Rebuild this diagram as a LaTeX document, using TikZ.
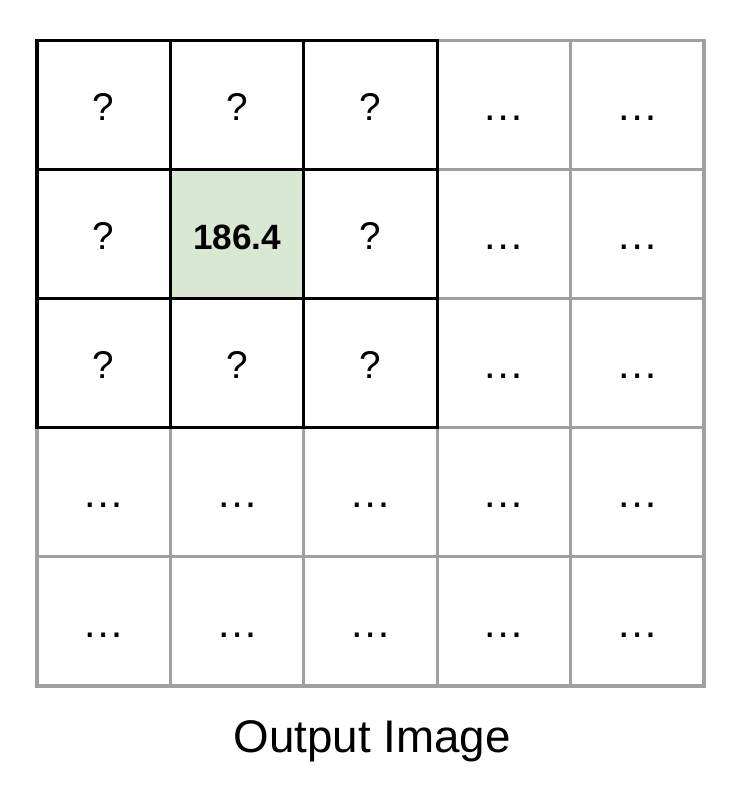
\documentclass[tikz,border=0pt]{standalone}
\usepackage{fontspec}
\setmainfont{Liberation Sans}
\usetikzlibrary{positioning}
\definecolor{cellgreen}{HTML}{D9E8D3}
\definecolor{gridgray}{HTML}{A0A0A0}

\begin{document}
\begin{tikzpicture}[x=0.01cm, y=-0.01cm,
    cell/.style={font=\fontsize{11}{13}\selectfont, text height=8.7pt, text depth=0pt, inner sep=0pt},
    gridline/.style={line width=0.9pt, line cap=rect}]
    \useasboundingbox (0,0) rectangle (742,794);

    % Highlighted output value
    \fill[cellgreen] (170.4,169.6) rectangle (303.8,298.7);

    % Gray 5x5 grid
    \foreach \i in {0,...,5} {
        \draw[gridline, gridgray] (37+133.4*\i,40.5) -- (37+133.4*\i,686);
        \draw[gridline, gridgray] (37,40.5+129.1*\i) -- (704,40.5+129.1*\i);
    }

    % Black 3x3 window
    \foreach \i in {0,...,3} {
        \draw[gridline, black] (37+133.4*\i,40.5) -- (37+133.4*\i,427.8);
        \draw[gridline, black] (37,40.5+129.1*\i) -- (437.2,40.5+129.1*\i);
    }

    % Cell values
    \foreach \r in {0,...,4} {
        \foreach \c in {0,...,4} {
            \pgfmathtruncatemacro{\inwin}{and(\r<3,\c<3) + and(\r==1,\c==1)}
            \ifcase\inwin
                \node[cell, font=\fontsize{12}{14}\selectfont] (cell-\r-\c) at (103.7+133.4*\c, 105.3+129.1*\r) {…};
            \or
                \node[cell] (cell-\r-\c) at (103.7+133.4*\c, 105.3+129.1*\r) {?};
            \else
                \node[cell, font=\fontsize{10}{12}\selectfont\bfseries] (cell-\r-\c) at (103.7+133.4*\c, 105.3+129.1*\r) {186.4};
            \fi
        }
    }

    % Caption
    \node[font=\fontsize{13}{15}\selectfont, anchor=base] (caption) at (372,752) {Output Image};
\end{tikzpicture}
\end{document}
